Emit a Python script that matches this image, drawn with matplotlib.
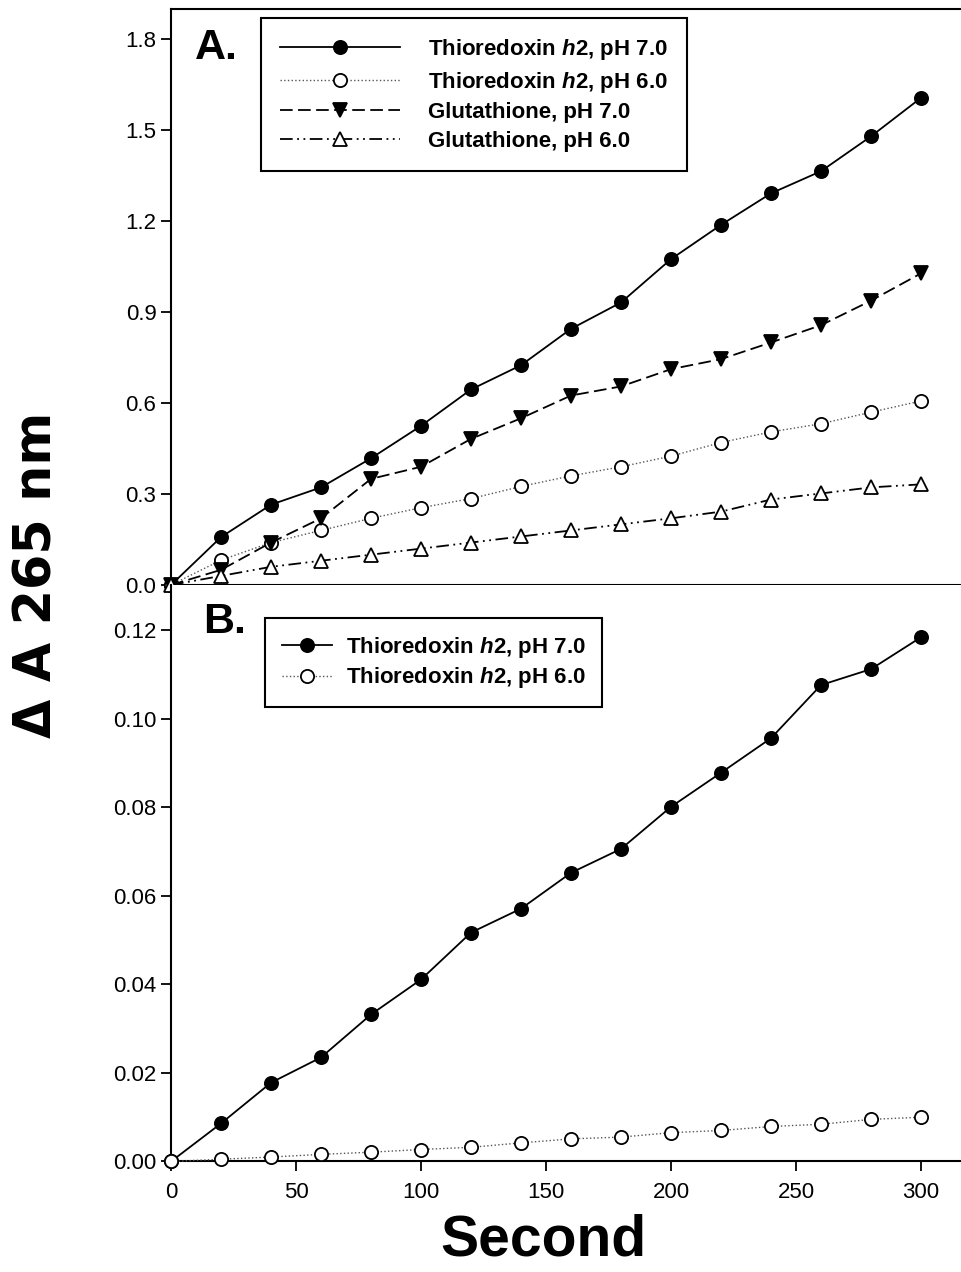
import matplotlib
matplotlib.use("Agg")
import matplotlib.pyplot as plt

plt.rcParams["font.family"] = ["Liberation Sans", "DejaVu Sans"]
plt.rcParams["mathtext.fontset"] = "custom"
plt.rcParams["mathtext.it"] = "Liberation Sans:italic:bold"
plt.rcParams["mathtext.rm"] = "Liberation Sans:bold"

seconds = [0, 20, 40, 60, 80, 100, 120, 140, 160, 180, 200, 220, 240, 260, 280, 300]

# panel A
trx_ph7_a = [0.0, 0.158, 0.265, 0.322, 0.418, 0.525, 0.645, 0.725, 0.845, 0.932,
             1.075, 1.188, 1.292, 1.365, 1.480, 1.607]
trx_ph6_a = [0.0, 0.082, 0.140, 0.180, 0.220, 0.255, 0.285, 0.325, 0.360, 0.390,
             0.425, 0.470, 0.505, 0.532, 0.570, 0.607]
gsh_ph7_a = [0.0, 0.050, 0.140, 0.220, 0.350, 0.390, 0.482, 0.550, 0.625, 0.655,
             0.712, 0.745, 0.800, 0.857, 0.938, 1.028]
gsh_ph6_a = [0.0, 0.030, 0.060, 0.080, 0.100, 0.120, 0.140, 0.160, 0.180, 0.200,
             0.220, 0.242, 0.282, 0.302, 0.322, 0.332]

# panel B
trx_ph7_b = [0.0, 0.0086, 0.0178, 0.0235, 0.0332, 0.0411, 0.0517, 0.0571, 0.0652, 0.0706,
             0.0801, 0.0878, 0.0956, 0.1076, 0.1112, 0.1184]
trx_ph6_b = [0.0, 0.0005, 0.0010, 0.0016, 0.0021, 0.0027, 0.0032, 0.0042, 0.0051, 0.0055,
             0.0065, 0.0070, 0.0079, 0.0084, 0.0095, 0.0100]

labels_a = [r"Thioredoxin $\mathit{h}$2, pH 7.0", r"Thioredoxin $\mathit{h}$2, pH 6.0",
            "Glutathione, pH 7.0", "Glutathione, pH 6.0"]
labels_b = labels_a[:2]

fig = plt.figure(figsize=(9.61, 12.72), dpi=100)
ax_a = fig.add_axes([0.178, 0.5401, 0.822, 0.4528])
ax_b = fig.add_axes([0.178, 0.0869, 0.822, 0.4532])

ms = 9.5
mew = 1.3
lw = 1.3

ax_a.plot(seconds, trx_ph7_a, "-", color="black", lw=lw, marker="o", ms=ms,
          mfc="black", mec="black", mew=mew, label=labels_a[0], clip_on=False, zorder=3)
ax_a.plot(seconds, trx_ph6_a, ":", color="#555555", lw=1.0, marker="o", ms=ms,
          mfc="white", mec="black", mew=mew, label=labels_a[1], clip_on=False, zorder=3)
ax_a.plot(seconds, gsh_ph7_a, color="black", lw=lw, dashes=(7, 3), marker="v", ms=ms + 1,
          mfc="black", mec="black", mew=mew, label=labels_a[2], clip_on=False, zorder=3)
ax_a.plot(seconds, gsh_ph6_a, color="black", lw=lw, dashes=(7, 2.5, 1, 2.5, 1, 2.5),
          marker="^", ms=ms + 1, mfc="white", mec="black", mew=mew,
          label=labels_a[3], clip_on=False, zorder=4)

ax_b.plot(seconds, trx_ph7_b, "-", color="black", lw=lw, marker="o", ms=ms,
          mfc="black", mec="black", mew=mew, label=labels_b[0], clip_on=False, zorder=3)
ax_b.plot(seconds, trx_ph6_b, ":", color="#555555", lw=1.0, marker="o", ms=ms,
          mfc="white", mec="black", mew=mew, label=labels_b[1], clip_on=False, zorder=4)

xmax = (961 - 171) / 2.5
for ax in (ax_a, ax_b):
    ax.set_xlim(0, xmax)
    ax.set_xticks([0, 50, 100, 150, 200, 250, 300])
    ax.tick_params(direction="out", length=7, width=1.3, labelsize=16, colors="black")
    ax.spines["right"].set_visible(False)
    for s in ("left", "bottom", "top"):
        ax.spines[s].set_linewidth(1.5)

ax_a.set_ylim(0, 1.90)
ax_a.set_yticks([0.0, 0.3, 0.6, 0.9, 1.2, 1.5, 1.8])
ax_a.set_yticklabels(["0.0", "0.3", "0.6", "0.9", "1.2", "1.5", "1.8"])
ax_a.tick_params(axis="x", labelbottom=False)

ax_b.set_ylim(0, 0.1302)
ax_b.set_yticks([0.0, 0.02, 0.04, 0.06, 0.08, 0.10, 0.12])
ax_b.set_yticklabels(["0.00", "0.02", "0.04", "0.06", "0.08", "0.10", "0.12"])
ax_b.spines["top"].set_visible(False)
ax_b.tick_params(axis="x", pad=8)

leg_a = ax_a.legend(loc="upper left", bbox_to_anchor=(0.114, 0.984), borderaxespad=0,
                    prop={"weight": "bold", "size": 16}, handlelength=5.4,
                    handletextpad=1.26, labelspacing=0.34, borderpad=0.85,
                    fancybox=False, edgecolor="black", framealpha=1)
leg_a.get_frame().set_linewidth(1.5)

leg_b = ax_b.legend(loc="upper left", bbox_to_anchor=(0.119, 0.943), borderaxespad=0,
                    prop={"weight": "bold", "size": 16}, handlelength=2.25,
                    handletextpad=0.63, labelspacing=0.26, borderpad=0.75,
                    fancybox=False, edgecolor="black", framealpha=1)
leg_b.get_frame().set_linewidth(1.5)

ax_a.text(0.03, 0.932, "A.", transform=ax_a.transAxes, fontsize=31, fontweight="bold",
          ha="left", va="center")
ax_b.text(0.04, 0.935, "B.", transform=ax_b.transAxes, fontsize=31, fontweight="bold",
          ha="left", va="center")

fig.text(38 / 961, 1 - 575 / 1272, "\u0394 A 265 nm", rotation=90, ha="center",
         va="center", fontsize=36.5, fontweight="bold", family="DejaVu Sans")
fig.text(543 / 961, 1 - 1241 / 1272, "Second", ha="center", va="center",
         fontsize=41, fontweight="bold")

fig.savefig("out.png", dpi=100)
